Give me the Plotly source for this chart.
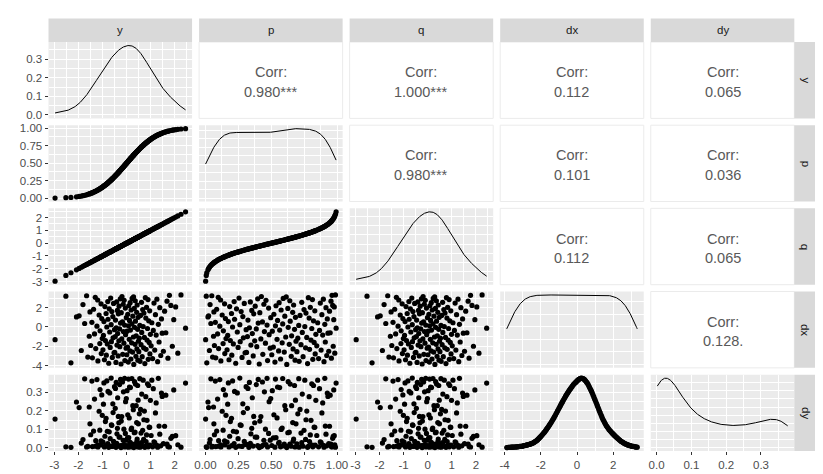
import numpy as np
import plotly.graph_objects as go

var_names = ["y", "p", "q", "dx", "dy"]

# y drawn roughly normal, p = its normal cdf, q back on the y scale
y = [0.30, -0.23, 0.76, -0.74, -2.31, -0.44, 0.07, 1.29, 0.56, -1.19,
     -0.07, 0.47, -0.92, 0.90, 0.18, 1.08, 1.72, -1.42, -0.59, -1.61,
     0.65, 0.39, -0.35, 1.42, -0.84, 0.01, -0.16, 0.97, -1.05, 2.13,
     -0.52, -0.49, 0.25, 0.51, 1.53, 0.14, -1.88, 1.17, -0.98, 0.81,
     0.43, -1.28, -0.02, 0.71, -0.68, 0.04, -0.28, 1.90, 1.02, -1.49,
     -0.40, 0.60, 0.35, -0.80, -1.11, -0.11, 0.21, 0.94, 1.35, -0.63,
     0.49, -0.32, -0.88, 0.85, -2.97, 0.11, -0.20, -1.01, 0.53, -0.56,
     0.74, 0.28, -0.47, -1.55, 0.40, -0.96, 1.23, -0.04, 0.99, -1.33,
     -0.37, 1.48, 1.63, 0.63, -0.70, -0.13, 0.02, -1.10, 1.11, 0.16,
     -0.50, 0.46, -0.29, 0.87, 2.45, -0.43, 0.33, -0.82, 0.69, -1.23,
     0.08, 0.55, -0.08, -0.64, 1.32, 0.22, -1.74, -0.25, 1.05, -1.44,
     -0.17, -0.94, 0.37, 0.92, 0.12, -0.46, 1.96, -0.77, 1.45, -1.03,
     0.80, -0.01, 0.48, -2.08, -0.57, 0.26, -1.97, 0.58, -1.14, 1.20,
     0.05, -0.34, -0.85, 0.72, -0.22, 0.42, -1.52, -0.61, 1.58, 0.96,
     -0.38, 0.19, 0.67, -1.37, -0.72, 0.32, -0.05, 1.38, 0.83, 2.04,
     -0.90, -0.31, 0.09, 1.84, 0.44, -1.81, -0.14, -1.06, -0.54, 1.14,
     0.15, 0.62, -0.41, -0.78, 1.68, 0.36, -0.10, -1.20, 0.89, 1.26,
     -0.26, 0.23, -0.66, 0.78, -1.30, 0.29, -0.19, -2.52, -1.66, 1.78,
     2.26]

p = [0.618, 0.409, 0.776, 0.230, 0.010, 0.330, 0.528, 0.901, 0.712, 0.117,
     0.472, 0.681, 0.179, 0.816, 0.571, 0.860, 0.957, 0.078, 0.278, 0.054,
     0.742, 0.652, 0.363, 0.922, 0.200, 0.504, 0.436, 0.834, 0.147, 0.983,
     0.301, 0.312, 0.599, 0.695, 0.937, 0.556, 0.030, 0.879, 0.164, 0.791,
     0.666, 0.100, 0.492, 0.761, 0.248, 0.516, 0.390, 0.971, 0.846, 0.068,
     0.345, 0.726, 0.637, 0.212, 0.134, 0.456, 0.583, 0.826, 0.911, 0.264,
     0.688, 0.374, 0.189, 0.802, 0.001, 0.544, 0.421, 0.156, 0.702, 0.288,
     0.770, 0.610, 0.319, 0.061, 0.655, 0.169, 0.891, 0.484, 0.839, 0.092,
     0.356, 0.931, 0.948, 0.736, 0.242, 0.448, 0.508, 0.136, 0.867, 0.564,
     0.309, 0.677, 0.386, 0.808, 0.993, 0.334, 0.629, 0.206, 0.755, 0.109,
     0.532, 0.709, 0.468, 0.261, 0.907, 0.587, 0.041, 0.401, 0.853, 0.075,
     0.433, 0.174, 0.644, 0.821, 0.548, 0.323, 0.975, 0.221, 0.926, 0.152,
     0.788, 0.496, 0.684, 0.019, 0.284, 0.603, 0.024, 0.719, 0.127, 0.885,
     0.520, 0.367, 0.198, 0.764, 0.413, 0.663, 0.064, 0.271, 0.943, 0.831,
     0.352, 0.575, 0.749, 0.085, 0.236, 0.626, 0.480, 0.916, 0.797, 0.979,
     0.184, 0.378, 0.536, 0.967, 0.670, 0.035, 0.444, 0.145, 0.295, 0.873,
     0.560, 0.732, 0.341, 0.218, 0.954, 0.641, 0.460, 0.115, 0.813, 0.896,
     0.397, 0.591, 0.255, 0.782, 0.097, 0.614, 0.425, 0.006, 0.048, 0.962,
     0.988]

q = [0.30, -0.23, 0.76, -0.74, -2.31, -0.44, 0.07, 1.29, 0.56, -1.19,
     -0.07, 0.47, -0.92, 0.90, 0.18, 1.08, 1.72, -1.42, -0.59, -1.61,
     0.65, 0.39, -0.35, 1.42, -0.84, 0.01, -0.16, 0.97, -1.05, 2.13,
     -0.52, -0.49, 0.25, 0.51, 1.53, 0.14, -1.88, 1.17, -0.98, 0.81,
     0.43, -1.28, -0.02, 0.71, -0.68, 0.04, -0.28, 1.90, 1.02, -1.49,
     -0.40, 0.60, 0.35, -0.80, -1.11, -0.11, 0.21, 0.94, 1.35, -0.63,
     0.49, -0.32, -0.88, 0.85, -2.97, 0.11, -0.20, -1.01, 0.53, -0.56,
     0.74, 0.28, -0.47, -1.55, 0.40, -0.96, 1.23, -0.04, 0.99, -1.33,
     -0.37, 1.48, 1.63, 0.63, -0.70, -0.13, 0.02, -1.10, 1.11, 0.16,
     -0.50, 0.46, -0.29, 0.87, 2.45, -0.43, 0.33, -0.82, 0.69, -1.23,
     0.08, 0.55, -0.08, -0.64, 1.32, 0.22, -1.74, -0.25, 1.05, -1.44,
     -0.17, -0.94, 0.37, 0.92, 0.12, -0.46, 1.96, -0.77, 1.45, -1.03,
     0.80, -0.01, 0.48, -2.08, -0.57, 0.26, -1.97, 0.58, -1.14, 1.20,
     0.05, -0.34, -0.85, 0.72, -0.22, 0.42, -1.52, -0.61, 1.58, 0.96,
     -0.38, 0.19, 0.67, -1.37, -0.72, 0.32, -0.05, 1.38, 0.83, 2.04,
     -0.90, -0.31, 0.09, 1.84, 0.44, -1.81, -0.14, -1.06, -0.54, 1.14,
     0.15, 0.62, -0.41, -0.78, 1.68, 0.36, -0.10, -1.20, 0.89, 1.26,
     -0.26, 0.23, -0.66, 0.78, -1.30, 0.29, -0.19, -2.52, -1.66, 1.78,
     2.26]

# dx / dy: the density grid of y (evenly spaced x, density height)
dx = [-3.88, -3.84, -3.80, -3.76, -3.72, -3.68, -3.64, -3.60, -3.56, -3.52,
      -3.48, -3.44, -3.40, -3.36, -3.32, -3.28, -3.24, -3.20, -3.16, -3.12,
      -3.08, -3.04, -3.00, -2.96, -2.92, -2.88, -2.84, -2.80, -2.76, -2.72,
      -2.68, -2.64, -2.60, -2.56, -2.52, -2.48, -2.44, -2.40, -2.36, -2.32,
      -2.28, -2.24, -2.20, -2.16, -2.12, -2.08, -2.04, -2.00, -1.96, -1.92,
      -1.88, -1.84, -1.80, -1.76, -1.72, -1.68, -1.64, -1.60, -1.56, -1.52,
      -1.48, -1.44, -1.40, -1.36, -1.32, -1.28, -1.24, -1.20, -1.16, -1.12,
      -1.08, -1.04, -1.00, -0.96, -0.92, -0.88, -0.84, -0.80, -0.76, -0.72,
      -0.68, -0.64, -0.60, -0.56, -0.52, -0.48, -0.44, -0.40, -0.36, -0.32,
      -0.28, -0.24, -0.20, -0.16, -0.12, -0.08, -0.04, 0.00, 0.04, 0.08,
      0.12, 0.16, 0.20, 0.24, 0.28, 0.32, 0.36, 0.40, 0.44, 0.48,
      0.52, 0.56, 0.60, 0.64, 0.68, 0.72, 0.76, 0.80, 0.84, 0.88,
      0.92, 0.96, 1.00, 1.04, 1.08, 1.12, 1.16, 1.20, 1.24, 1.28,
      1.32, 1.36, 1.40, 1.44, 1.48, 1.52, 1.56, 1.60, 1.64, 1.68,
      1.72, 1.76, 1.80, 1.84, 1.88, 1.92, 1.96, 2.00, 2.04, 2.08,
      2.12, 2.16, 2.20, 2.24, 2.28, 2.32, 2.36, 2.40, 2.44, 2.48,
      2.52, 2.56, 2.60, 2.64, 2.68, 2.72, 2.76, 2.80, 2.84, 2.88,
      2.92, 2.96, 3.00, 3.04, 3.08, 3.12, 3.16, 3.20, 3.24, 3.28,
      3.32]

dy = [0.002, 0.002, 0.003, 0.003, 0.003, 0.003, 0.004, 0.004, 0.004, 0.005,
      0.005, 0.005, 0.005, 0.006, 0.006, 0.006, 0.007, 0.007, 0.008, 0.008,
      0.009, 0.009, 0.010, 0.011, 0.012, 0.013, 0.014, 0.015, 0.016, 0.017,
      0.018, 0.019, 0.020, 0.022, 0.023, 0.025, 0.026, 0.028, 0.031, 0.034,
      0.036, 0.039, 0.042, 0.046, 0.050, 0.054, 0.058, 0.062, 0.067, 0.071,
      0.076, 0.080, 0.085, 0.090, 0.096, 0.101, 0.107, 0.112, 0.118, 0.124,
      0.130, 0.136, 0.142, 0.149, 0.156, 0.162, 0.169, 0.176, 0.184, 0.191,
      0.199, 0.206, 0.214, 0.221, 0.228, 0.236, 0.243, 0.250, 0.257, 0.264,
      0.271, 0.278, 0.285, 0.291, 0.297, 0.303, 0.309, 0.315, 0.320, 0.326,
      0.331, 0.337, 0.342, 0.346, 0.350, 0.354, 0.358, 0.362, 0.366, 0.369,
      0.372, 0.374, 0.376, 0.377, 0.376, 0.375, 0.373, 0.370, 0.366, 0.361,
      0.356, 0.351, 0.345, 0.337, 0.329, 0.321, 0.313, 0.305, 0.296, 0.286,
      0.277, 0.267, 0.258, 0.248, 0.238, 0.228, 0.218, 0.208, 0.198, 0.189,
      0.179, 0.170, 0.160, 0.152, 0.145, 0.137, 0.130, 0.122, 0.117, 0.111,
      0.106, 0.100, 0.095, 0.091, 0.087, 0.082, 0.078, 0.074, 0.070, 0.066,
      0.063, 0.059, 0.055, 0.052, 0.048, 0.045, 0.041, 0.038, 0.035, 0.033,
      0.030, 0.028, 0.025, 0.023, 0.021, 0.020, 0.018, 0.016, 0.015, 0.014,
      0.012, 0.011, 0.010, 0.009, 0.009, 0.008, 0.007, 0.006, 0.005, 0.005,
      0.004]

# upper triangle, row by row
corr_labels = ["0.980***", "1.000***", "0.112", "0.065",
               "0.980***", "0.101", "0.036",
               "0.112", "0.065",
               "0.128."]

y_ticks = [-3, -2, -1, 0, 1, 2]
y_ticktext = ["-3", "-2", "-1", "0", "1", "2"]
p_ticks = [0, 0.25, 0.5, 0.75, 1]
p_ticktext = ["0.00", "0.25", "0.50", "0.75", "1.00"]
dx_ticks = [-4, -2, 0, 2]
dx_ticktext = ["-4", "-2", "0", "2"]
dy_ticks = [0, 0.1, 0.2, 0.3]
dy_ticktext = ["0.0", "0.1", "0.2", "0.3"]
dens_ticks = [0, 0.1, 0.2, 0.3]
dens_ticktext = ["0.0", "0.1", "0.2", "0.3"]

data = [y, p, q, dx, dy]
ticks = [(y_ticks, y_ticktext), (p_ticks, p_ticktext), (y_ticks, y_ticktext),
         (dx_ticks, dx_ticktext), (dy_ticks, dy_ticktext)]

W, H = 823, 474
col_left = [36 + 152.6 * i for i in range(5)]
row_top = [31.5 + 84.4 * i for i in range(5)]
pw, ph = 145.5, 77.5

FONT = "Liberation Sans, Arial, sans-serif"
tick_font = dict(family=FONT, size=11.5, color="#4D4D4D")
strip_font = dict(family=FONT, size=11.5, color="#1A1A1A")
corr_font = dict(family=FONT, size=14.5, color="#595959")


def expand(lo, hi, mult=0.05):
    r = hi - lo
    return [lo - mult * r, hi + mult * r]


def minor_of(major, rng):
    step = major[1] - major[0]
    cand = [major[0] - step / 2] + [m + step / 2 for m in major]
    return [v for v in cand if rng[0] <= v <= rng[1]]


def pretty(lo, hi, n=5):
    raw = (hi - lo) / n
    mag = 10 ** np.floor(np.log10(raw))
    for m in [1, 2, 2.5, 5, 10]:
        step = m * mag
        if step >= raw:
            break
    start = np.ceil(lo / step) * step
    return list(np.arange(start, hi + 1e-9, step))


def kde(vals):
    # gaussian kernel, nrd0 bandwidth, over the data range (like stat_density)
    v = np.asarray(vals, dtype=float)
    n = len(v)
    iqr = np.percentile(v, 75) - np.percentile(v, 25)
    bw = 0.9 * min(v.std(ddof=1), iqr / 1.34) * n ** -0.2
    xs = np.linspace(v.min(), v.max(), 512)
    z = (xs[:, None] - v[None, :]) / bw
    d = np.exp(-0.5 * z ** 2).sum(axis=1) / (n * bw * np.sqrt(2 * np.pi))
    return xs, d


def px_x(v):
    return v / W


def px_y(v):
    return 1 - v / H


def label(x, y, text, font, angle=0):
    return dict(x=x, y=y, xref="paper", yref="paper", text=text, showarrow=False,
                xanchor="center", yanchor="middle", textangle=angle, font=font)


ranges = [expand(min(d), max(d)) for d in data]

fig = go.Figure()
shapes = []
annotations = []
layout = {}
k = 0

for r in range(5):
    for c in range(5):
        idx = r * 5 + c + 1
        s = "" if idx == 1 else str(idx)
        x0 = col_left[c]
        y0 = row_top[r]
        xdom = [px_x(x0), px_x(x0 + pw)]
        ydom = [px_y(y0 + ph), px_y(y0)]

        xa = dict(domain=xdom, anchor="y" + s, zeroline=False, showline=False,
                  fixedrange=True, tickfont=tick_font, ticklen=3, tickwidth=1,
                  tickcolor="#333333")
        ya = dict(domain=ydom, anchor="x" + s, zeroline=False, showline=False,
                  fixedrange=True, tickfont=tick_font, ticklen=3, tickwidth=1,
                  tickcolor="#333333")

        if r < c:
            # correlation box
            xa.update(range=[0, 1], showgrid=False, showticklabels=False, ticks="")
            ya.update(range=[0, 1], showgrid=False, showticklabels=False, ticks="")
            shapes.append(dict(type="rect", xref="paper", yref="paper",
                               x0=xdom[0], x1=xdom[1], y0=ydom[0], y1=ydom[1],
                               fillcolor="white", line=dict(color="#EBEBEB", width=1),
                               layer="below"))
            cx = px_x(x0 + pw / 2)
            annotations.append(label(cx, px_y(y0 + ph / 2 - 8), "Corr:", corr_font))
            annotations.append(label(cx, px_y(y0 + ph / 2 + 12), corr_labels[k], corr_font))
            k += 1
        else:
            shapes.append(dict(type="rect", xref="paper", yref="paper",
                               x0=xdom[0], x1=xdom[1], y0=ydom[0], y1=ydom[1],
                               fillcolor="#EBEBEB", line=dict(width=0), layer="below"))
            xt, xl = ticks[c]
            xa.update(range=ranges[c], showgrid=True, gridcolor="white", gridwidth=1.1,
                      tickmode="array", tickvals=xt, ticktext=xl,
                      showticklabels=(r == 4), ticks="outside" if r == 4 else "",
                      minor=dict(tickmode="array", tickvals=minor_of(xt, ranges[c]),
                                 showgrid=True, gridcolor="white", gridwidth=0.55, ticks=""))
            if r == c:
                xs, dens = kde(data[c])
                # density panels keep zero in view
                yr = expand(0, dens.max())
                if r == 0:
                    yt, yl = dens_ticks, dens_ticktext
                else:
                    yt = pretty(0, yr[1])
                    yl = ["" for _ in yt]
                fig.add_trace(go.Scatter(x=xs, y=dens, mode="lines",
                                         line=dict(color="black", width=1),
                                         xaxis="x" + s, yaxis="y" + s, hoverinfo="skip"))
            else:
                yr = ranges[r]
                yt, yl = ticks[r]
                fig.add_trace(go.Scatter(x=data[c], y=data[r], mode="markers",
                                         marker=dict(color="black", size=5.2),
                                         xaxis="x" + s, yaxis="y" + s))
            ya.update(range=yr, showgrid=True, gridcolor="white", gridwidth=1.1,
                      tickmode="array", tickvals=yt, ticktext=yl,
                      showticklabels=(c == 0), ticks="outside" if c == 0 else "",
                      minor=dict(tickmode="array", tickvals=minor_of(yt, yr),
                                 showgrid=True, gridcolor="white", gridwidth=0.55, ticks=""))

        layout["xaxis" + s] = xa
        layout["yaxis" + s] = ya

# strips on top and on the right
strip_right = 815
for i, name in enumerate(var_names):
    x0 = col_left[i]
    shapes.append(dict(type="rect", xref="paper", yref="paper",
                       x0=px_x(x0), x1=px_x(x0 + pw), y0=px_y(31.5), y1=px_y(7.5),
                       fillcolor="#D9D9D9", line=dict(width=0), layer="below"))
    annotations.append(label(px_x(x0 + pw / 2), px_y(19.5), name, strip_font))
    y0 = row_top[i]
    shapes.append(dict(type="rect", xref="paper", yref="paper",
                       x0=px_x(col_left[4] + pw), x1=px_x(strip_right),
                       y0=px_y(y0 + ph), y1=px_y(y0),
                       fillcolor="#D9D9D9", line=dict(width=0), layer="below"))
    annotations.append(label(px_x((col_left[4] + pw + strip_right) / 2), px_y(y0 + ph / 2),
                             name, strip_font, angle=90))

fig.update_layout(width=W, height=H, margin=dict(l=0, r=0, t=0, b=0),
                  paper_bgcolor="white", plot_bgcolor="rgba(0,0,0,0)",
                  showlegend=False, shapes=shapes, annotations=annotations,
                  font=dict(family=FONT), **layout)

fig.write_html("out.html")
